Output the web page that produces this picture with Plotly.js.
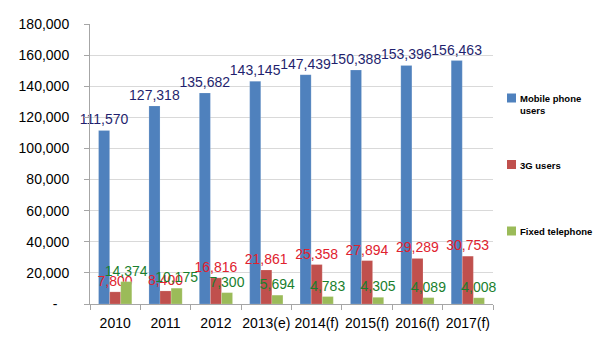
<!DOCTYPE html>
<html>
<head>
<meta charset="utf-8">
<script src="https://cdn.plot.ly/plotly-3.0.1.min.js"></script>
<style>html,body{margin:0;padding:0;background:#fff;}#chart{width:600px;height:360px;}</style>
</head>
<body>
<div id="chart"></div>
<script>
const categories = ["2010", "2011", "2012", "2013(e)", "2014(f)", "2015(f)", "2016(f)", "2017(f)"];
const mobileUsers = [111570, 127318, 135682, 143145, 147439, 150388, 153396, 156463];
const users3G = [7800, 8400, 16816, 21861, 25358, 27894, 29289, 30753];
const fixedPhone = [14374, 10175, 7300, 5694, 4783, 4305, 4089, 4008];
const seriesNames = ["Mobile phone<br>users", "3G users", "Fixed telephone"];
const yTickVals = [0, 20000, 40000, 60000, 80000, 100000, 120000, 140000, 160000, 180000];
const yTickText = ["-\u00a0\u00a0\u00a0", "20,000", "40,000", "60,000", "80,000", "100,000", "120,000", "140,000", "160,000", "180,000"];

const font = "Liberation Sans, Arial, sans-serif";
const barColors = ["#4F81BD", "#C0504D", "#9BBB59"];
const labelColors = ["#1F1F6E", "#E0222E", "#1A7F2E"];
const seriesValues = [mobileUsers, users3G, fixedPhone];

const data = seriesValues.map((vals, i) => ({
  type: "bar", name: seriesNames[i], x: categories, y: vals,
  marker: {color: barColors[i], line: {color: "rgba(255,255,255,0.35)", width: 0.5}},
  texttemplate: "%{y:,}", textposition: "outside", constraintext: "none",
  cliponaxis: false,
  textfont: {family: font, size: 14, color: labelColors[i]},
  hoverinfo: "skip", showlegend: false
}));

// legend drawn manually (plot area: x 90..493 px, y 24..304 px)
const L = 90, W = 403, T = 24, H = 280;
const px = v => (v - L) / W;
const py = v => 1 - (v - T) / H;
const legendRows = [98, 164.5, 231];
const shapes = legendRows.map((yc, i) => ({
  type: "rect", xref: "paper", yref: "paper",
  x0: px(507), x1: px(516), y0: py(yc - 4.5), y1: py(yc + 4.5),
  fillcolor: barColors[i], line: {width: 0}
}));
const annotations = legendRows.map((yc, i) => ({
  xref: "paper", yref: "paper", x: px(518), y: py(yc - 7),
  xanchor: "left", yanchor: "top", align: "left",
  text: "<b>" + seriesNames[i] + "</b>", showarrow: false,
  font: {family: font, size: 9.5, color: "#000"}
}));

const layout = {
  width: 600, height: 360,
  margin: {l: L, r: 600 - L - W, t: T, b: 360 - T - H},
  paper_bgcolor: "#fff", plot_bgcolor: "#fff",
  barmode: "group", bargap: 0.34, bargroupgap: 0,
  font: {family: font, size: 14, color: "#000"},
  showlegend: false,
  shapes: shapes, annotations: annotations,
  xaxis: {
    type: "category", showline: true, linecolor: "#A6A6A6", linewidth: 1,
    ticks: "outside", tickson: "boundaries", ticklen: 5, tickcolor: "#A6A6A6",
    tickangle: 0, tickfont: {family: font, size: 14, color: "#000"}, showgrid: false,
    ticklabelstandoff: 6
  },
  yaxis: {
    range: [0, 180000], tickvals: yTickVals, ticktext: yTickText,
    showline: true, linecolor: "#A6A6A6", linewidth: 1,
    ticks: "outside", ticklen: 5, tickcolor: "#A6A6A6",
    gridcolor: "#D9D9D9", gridwidth: 1, zeroline: false,
    tickfont: {family: font, size: 14, color: "#000"}, ticklabelstandoff: 12
  }
};
Plotly.newPlot("chart", data, layout, {displayModeBar: false, staticPlot: true});
</script>
</body>
</html>
